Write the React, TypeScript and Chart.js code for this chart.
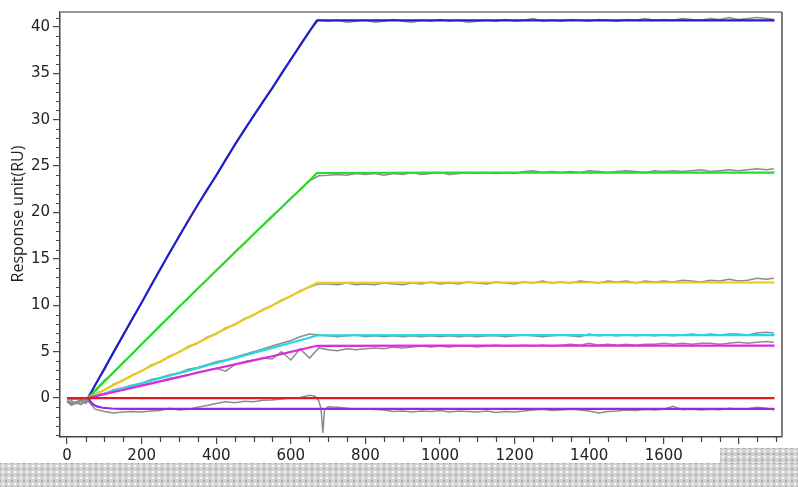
import React, { useEffect, useRef } from "react";
import { Chart, registerables } from "chart.js";

Chart.register(...registerables);

// ---------- tick labels ----------
const X_TICKS = [0, 200, 400, 600, 800, 1000, 1200, 1400, 1600, 1800];
const Y_TICKS = [0, 5, 10, 15, 20, 25, 30, 35, 40];
const Y_TITLE = "Response unit(RU)";

// ---------- fitted curves ----------
const FIT_T = [0, 56, 62, 70, 80, 95, 120, 150, 200, 250, 300, 350, 400, 450, 500, 550, 600, 650, 670, 1000, 1400, 1897];
const BLUE_FIT = [0, 0, 0.43, 1.0, 1.72, 2.8, 4.6, 6.75, 10.3, 13.9, 17.4, 20.8, 24.0, 27.3, 30.4, 33.4, 36.5, 39.5, 40.7, 40.7, 40.7, 40.7];
const GREEN_FIT = [0, 0, 0.24, 0.56, 0.96, 1.56, 2.58, 3.78, 5.8, 7.8, 9.8, 11.78, 13.75, 15.7, 17.65, 19.58, 21.5, 23.45, 24.25, 24.3, 24.3, 24.3];
const YELLOW_FIT = [0, 0, 0.12, 0.28, 0.49, 0.79, 1.3, 1.91, 2.93, 3.94, 4.95, 5.95, 6.95, 7.95, 8.97, 9.98, 11.0, 11.99, 12.4, 12.45, 12.45, 12.45];
const CYAN_FIT = [0, 0, 0.07, 0.16, 0.27, 0.44, 0.71, 1.04, 1.59, 2.14, 2.68, 3.22, 3.78, 4.3, 4.86, 5.4, 5.95, 6.5, 6.75, 6.78, 6.78, 6.78];
const MAGENTA_FIT = [0, 0, 0.05, 0.13, 0.22, 0.36, 0.59, 0.87, 1.33, 1.79, 2.25, 2.72, 3.18, 3.62, 4.06, 4.5, 4.98, 5.45, 5.63, 5.65, 5.65, 5.65];
const RED_FIT = [0, 0, 0, 0, 0, 0, 0, 0, 0, 0, 0, 0, 0, 0, 0, 0, 0, 0, 0, 0, 0, 0];
const PURPLE_FIT = [0, 0, -0.35, -0.7, -0.9, -1.05, -1.13, -1.16, -1.17, -1.17, -1.17, -1.17, -1.17, -1.17, -1.17, -1.17, -1.17, -1.17, -1.17, -1.17, -1.17, -1.17];

// ---------- raw (measured) traces ----------
const RAW_T = [
  0, 12, 25, 37, 50, 58,
  75, 100, 125, 150, 175, 200, 225, 250, 275, 300, 325, 350, 375, 400, 425, 450, 475, 500, 525, 550, 575, 600, 625, 650, 675,
  700, 725, 750, 775, 800, 825, 850, 875, 900, 925, 950, 975,
  1000, 1025, 1050, 1075, 1100, 1125, 1150, 1175, 1200, 1225, 1250, 1275,
  1300, 1325, 1350, 1375, 1400, 1425, 1450, 1475, 1500, 1525, 1550, 1575,
  1600, 1625, 1650, 1675, 1700, 1725, 1750, 1775, 1800, 1825, 1850, 1875,
  1895,
];
const BLUE_RAW = [
  -0.3, -0.6, -0.4, -0.2, -0.5, -0.1,
  1.45, 3.0, 5.05, 6.7, 8.6, 10.25, 12.2, 13.85, 15.75, 17.35, 19.2, 20.75, 22.5, 23.95, 25.75, 27.25, 28.95, 30.35, 32.0, 33.35, 35.05, 36.45, 38.1, 39.55, 40.75,
  40.6, 40.7, 40.5, 40.6, 40.7, 40.5, 40.6, 40.8, 40.6, 40.5, 40.7, 40.6,
  40.8, 40.6, 40.7, 40.5, 40.6, 40.7, 40.6, 40.8, 40.6, 40.7, 40.9, 40.6,
  40.7, 40.6, 40.8, 40.7, 40.6, 40.8, 40.7, 40.6, 40.8, 40.7, 40.9, 40.7,
  40.8, 40.7, 40.9, 40.8, 40.7, 40.9, 40.8, 41.0, 40.8, 40.9, 41.0, 40.9,
  40.8,
];
const GREEN_RAW = [
  -0.4, -0.3, -0.6, -0.3, -0.5, -0.2,
  0.85, 1.9, 2.75, 3.85, 4.75, 5.85, 6.78, 7.86, 8.76, 9.85, 10.74, 11.83, 12.74, 13.8, 14.68, 15.76, 16.64, 17.7, 18.56, 19.63, 20.5, 21.55, 22.42, 23.4, 23.95,
  24.0, 24.1, 24.0, 24.2, 24.1, 24.2, 24.0, 24.2, 24.1, 24.3, 24.1, 24.2,
  24.3, 24.1, 24.2, 24.3, 24.2, 24.3, 24.2, 24.3, 24.2, 24.4, 24.5, 24.3,
  24.4, 24.3, 24.4, 24.3, 24.5, 24.4, 24.3, 24.4, 24.5, 24.4, 24.3, 24.5,
  24.4, 24.5, 24.4, 24.5, 24.6, 24.4, 24.5, 24.6, 24.5, 24.6, 24.7, 24.6,
  24.7,
];
const YELLOW_RAW = [
  -0.4, -0.7, -0.5, -0.3, -0.6, -0.2,
  0.45, 0.85, 1.5, 1.88, 2.5, 2.9, 3.55, 3.9, 4.55, 4.92, 5.55, 5.9, 6.55, 6.9, 7.55, 7.9, 8.55, 8.92, 9.55, 9.95, 10.58, 10.95, 11.58, 11.95, 12.3,
  12.3, 12.2, 12.4, 12.2, 12.3, 12.2, 12.4, 12.3, 12.2, 12.4, 12.3, 12.5,
  12.3, 12.4, 12.3, 12.5, 12.4, 12.3, 12.5, 12.4, 12.3, 12.5, 12.4, 12.6,
  12.4, 12.5, 12.4, 12.6, 12.5, 12.4, 12.6, 12.5, 12.6, 12.4, 12.6, 12.5,
  12.6, 12.5, 12.7, 12.6, 12.5, 12.7, 12.6, 12.8, 12.6, 12.7, 12.9, 12.8,
  12.9,
];
const CYAN_RAW = [
  -0.3, -0.5, -0.6, -0.2, -0.4, -0.1,
  0.3, 0.5, 0.9, 1.1, 1.4, 1.6, 2.0, 2.2, 2.5, 2.7, 3.1, 3.3, 3.6, 3.9, 4.1, 4.4, 4.7, 5.0, 5.3, 5.6, 5.9, 6.2, 6.6, 6.9, 6.8,
  6.7, 6.6, 6.7, 6.8, 6.6, 6.7, 6.6, 6.7, 6.6, 6.7, 6.6, 6.7,
  6.6, 6.7, 6.6, 6.7, 6.6, 6.7, 6.7, 6.6, 6.7, 6.8, 6.7, 6.6,
  6.7, 6.8, 6.7, 6.6, 6.9, 6.7, 6.8, 6.7, 6.8, 6.7, 6.8, 6.7,
  6.8, 6.7, 6.8, 6.9, 6.8, 6.9, 6.8, 6.9, 6.9, 6.8, 7.0, 7.1,
  7.0,
];
const MAGENTA_RAW = [
  -0.4, -0.7, -0.5, -0.6, -0.3, -0.2,
  0.2, 0.5, 0.7, 0.9, 1.2, 1.4, 1.6, 1.8, 2.1, 2.3, 2.5, 2.8, 3.0, 3.2, 2.9, 3.6, 3.9, 4.1, 4.3, 4.2, 5.0, 4.1, 5.3, 4.3, 5.4,
  5.2, 5.1, 5.3, 5.2, 5.3, 5.4, 5.3, 5.5, 5.4, 5.5, 5.6, 5.5,
  5.6, 5.5, 5.6, 5.6, 5.5, 5.6, 5.7, 5.6, 5.6, 5.7, 5.6, 5.7,
  5.6, 5.7, 5.8, 5.7, 5.9, 5.7, 5.8, 5.7, 5.8, 5.7, 5.8, 5.8,
  5.9, 5.8, 5.9, 5.8, 5.9, 5.9, 5.8, 5.9, 6.0, 5.9, 6.0, 6.1,
  6.0,
];
const BLANK_T = [
  0, 12, 25, 37, 50, 58,
  75, 100, 125, 150, 175, 200, 225, 250, 275, 300, 325, 350, 375, 400, 425, 450, 475, 500, 525, 550, 575, 600, 625, 650,
  665, 675, 681, 686, 690,
  700, 725, 750, 775, 800, 825, 850, 875, 900, 925, 950, 975,
  1000, 1025, 1050, 1075, 1100, 1125, 1150, 1175, 1200, 1225, 1250, 1275,
  1300, 1325, 1350, 1375, 1400, 1425, 1450, 1475, 1500, 1525, 1550, 1575,
  1600, 1625, 1650, 1675, 1700, 1725, 1750, 1775, 1800, 1825, 1850, 1875,
  1895,
];
const BLANK_RAW = [
  -0.4, -0.8, -0.5, -0.7, -0.3, -0.4,
  -1.2, -1.45, -1.6, -1.5, -1.45, -1.5, -1.4, -1.35, -1.1, -1.3, -1.2, -1.0, -0.8, -0.6, -0.4, -0.5, -0.35, -0.4, -0.25, -0.2, -0.1, 0.0, 0.05, 0.3,
  0.2, -0.3, -1.2, -3.75, -1.3,
  -0.95, -1.0, -1.1, -1.2, -1.15, -1.25, -1.3, -1.45, -1.4, -1.5, -1.4, -1.45,
  -1.35, -1.5, -1.4, -1.45, -1.5, -1.4, -1.55, -1.45, -1.5, -1.4, -1.3, -1.2,
  -1.35, -1.3, -1.2, -1.3, -1.4, -1.6, -1.45, -1.4, -1.3, -1.35, -1.25, -1.3,
  -1.2, -0.9, -1.25, -1.2, -1.3, -1.2, -1.25, -1.1, -1.2, -1.15, -1.0, -1.1,
  -1.3,
];

const GRAY = "rgb(140,140,140)";
const AXIS = "#444";
const TICK_FONT = { family: "'DejaVu Sans', sans-serif", size: 15 };

const pts = (ts: number[], vs: number[]) => ts.map((t, i) => ({ x: t, y: vs[i] }));

const dots: React.CSSProperties = {
  position: "absolute",
  backgroundColor: "#d2d2d2",
  backgroundImage:
    "radial-gradient(circle, #f6f6f6 0.9px, transparent 1.1px), radial-gradient(circle, #a8a8a8 0.7px, transparent 0.9px)",
  backgroundSize: "6px 6px, 6px 6px",
  backgroundPosition: "0 0, 3px 3px",
};

export default function App() {
  const ref = useRef<HTMLCanvasElement>(null);

  useEffect(() => {
    if (!ref.current) return;

    const frame = {
      id: "frame",
      afterDraw(chart: any) {
        const { ctx, chartArea } = chart;
        const xs = chart.scales.x;
        const ys = chart.scales.y;
        ctx.save();
        // top border (light gray) and right border
        ctx.strokeStyle = "#9a9a9a";
        ctx.lineWidth = 2;
        ctx.beginPath();
        ctx.moveTo(chartArea.left, chartArea.top);
        ctx.lineTo(chartArea.right, chartArea.top);
        ctx.stroke();
        ctx.strokeStyle = "#555";
        ctx.lineWidth = 1.5;
        ctx.beginPath();
        ctx.moveTo(chartArea.right, chartArea.top);
        ctx.lineTo(chartArea.right, chartArea.bottom);
        ctx.stroke();
        // minor ticks
        ctx.strokeStyle = AXIS;
        ctx.lineWidth = 1.2;
        ctx.beginPath();
        for (let v = 50; v <= 1900; v += 50) {
          if (v % 200 === 0) continue;
          const px = Math.round(xs.getPixelForValue(v)) + 0.5;
          ctx.moveTo(px, chartArea.bottom);
          ctx.lineTo(px, chartArea.bottom + 5);
        }
        for (let v = -4; v <= 41; v += 1) {
          if (v % 5 === 0) continue;
          const py = Math.round(ys.getPixelForValue(v)) + 0.5;
          ctx.moveTo(chartArea.left - 4, py);
          ctx.lineTo(chartArea.left, py);
        }
        ctx.stroke();
        // y title
        ctx.fillStyle = "#222";
        ctx.font = "16px 'Open Sans', sans-serif";
        ctx.textAlign = "center";
        ctx.textBaseline = "middle";
        ctx.translate(18, 214);
        ctx.rotate(-Math.PI / 2);
        ctx.fillText(Y_TITLE, 0, 0);
        ctx.restore();
      },
    };

    const gray = (ts: number[], vs: number[]) => ({
      data: pts(ts, vs),
      borderColor: GRAY,
      borderWidth: 1.5,
      pointRadius: 0,
      order: 10,
    });
    const fit = (vs: number[], color: string) => ({
      data: pts(FIT_T, vs),
      borderColor: color,
      borderWidth: 2.2,
      pointRadius: 0,
      order: 1,
    });

    const chart = new Chart(ref.current, {
      type: "line",
      data: {
        datasets: [
          gray(RAW_T, BLUE_RAW),
          gray(RAW_T, GREEN_RAW),
          gray(RAW_T, YELLOW_RAW),
          gray(RAW_T, CYAN_RAW),
          gray(RAW_T, MAGENTA_RAW),
          gray(BLANK_T, BLANK_RAW),
          fit(RED_FIT, "rgb(225,30,30)"),
          fit(PURPLE_FIT, "rgb(150,40,225)"),
          fit(MAGENTA_FIT, "rgb(225,40,225)"),
          fit(CYAN_FIT, "rgb(40,215,220)"),
          fit(YELLOW_FIT, "rgb(235,200,40)"),
          fit(GREEN_FIT, "rgb(40,220,40)"),
          fit(BLUE_FIT, "rgb(30,30,205)"),
        ] as any,
      },
      options: {
        animation: false,
        responsive: false,
        maintainAspectRatio: false,
        layout: { padding: { top: 8, right: 16, left: 0, bottom: 0 } },
        plugins: { legend: { display: false }, tooltip: { enabled: false } },
        elements: { point: { radius: 0 }, line: { tension: 0 } },
        scales: {
          x: {
            type: "linear",
            min: -19,
            max: 1917,
            afterBuildTicks: (s: any) => {
              s.ticks = X_TICKS.map((v) => ({ value: v }));
            },
            afterFit: (s: any) => {
              s.height = 50;
            },
            ticks: {
              font: TICK_FONT,
              color: "#222",
              padding: 3,
              maxRotation: 0,
              autoSkip: false,
              callback: (v: any) => String(v),
            },
            grid: { drawOnChartArea: false, tickLength: 7, color: AXIS, lineWidth: 1.2 },
            border: { color: AXIS, width: 1.5 },
          },
          y: {
            type: "linear",
            min: -4.2,
            max: 41.6,
            afterBuildTicks: (s: any) => {
              s.ticks = Y_TICKS.map((v) => ({ value: v }));
            },
            afterFit: (s: any) => {
              s.width = 60;
            },
            ticks: { font: TICK_FONT, color: "#222", padding: 3, callback: (v: any) => String(v) },
            grid: { drawOnChartArea: false, tickLength: 7, color: AXIS, lineWidth: 1.2 },
            border: { color: AXIS, width: 1.5 },
          },
        },
      } as any,
      plugins: [frame],
    });

    return () => chart.destroy();
  }, []);

  return (
    <div style={{ position: "fixed", left: 0, top: 0, width: 798, height: 487, background: "#fff", overflow: "hidden" }}>
      <canvas ref={ref} width={798} height={487} style={{ width: 798, height: 487, display: "block" }} />
      <div style={{ ...dots, left: 720, top: 448, width: 78, height: 15 }} />
      <div style={{ ...dots, left: 0, top: 463, width: 798, height: 24 }} />
    </div>
  );
}
